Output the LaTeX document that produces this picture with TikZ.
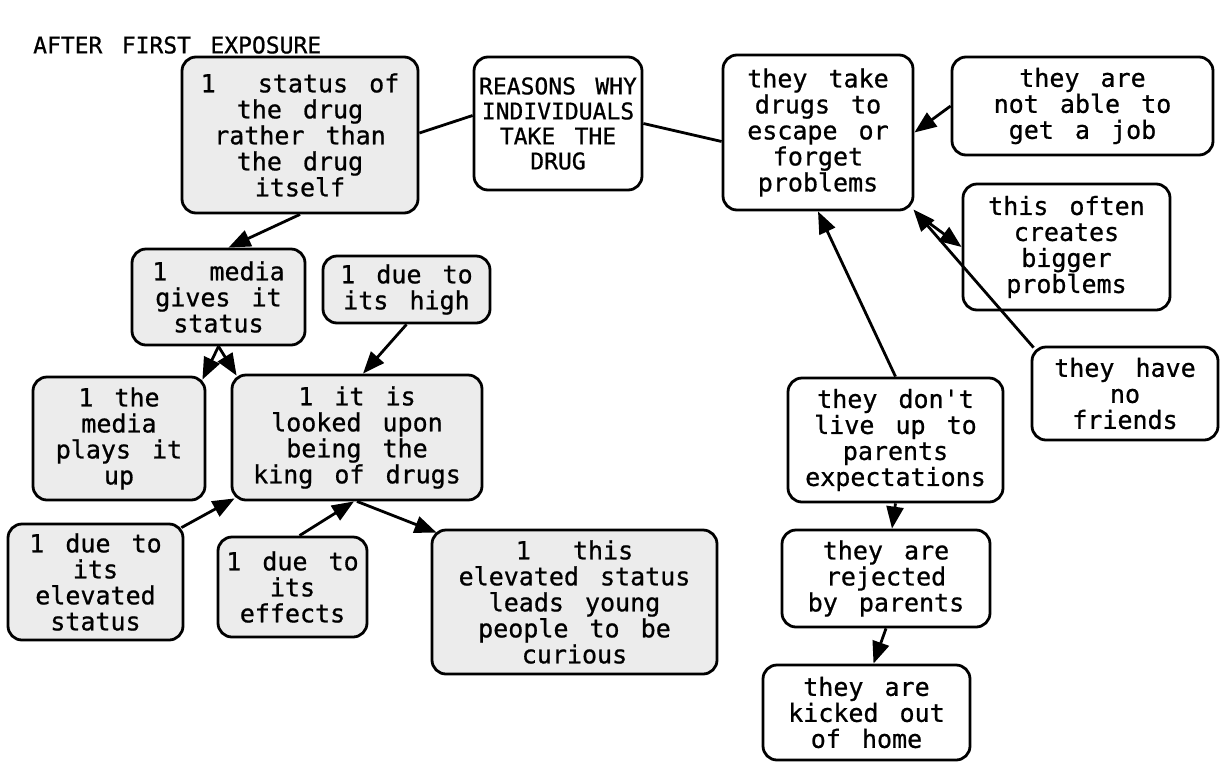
\documentclass[tikz,border=0pt]{standalone}
\usepackage{fontspec}
\newfontfamily\mapfont[WordSpace=1.4,FakeBold=0.8]{DejaVu Sans Mono}
\usetikzlibrary{arrows.meta}

\tikzset{
  concept/.style={draw, line width=2.8pt, rounded corners=14pt, align=center,
    inner sep=0pt, font=\mapfont\fontsize{25}{26}\selectfont},
  shadedbox/.style={concept, fill=gray!15},
  capsbox/.style={concept, font=\mapfont\fontsize{23}{25}\selectfont},
  link/.style={line width=2.8pt},
  arr/.style={link, -{Triangle[length=22pt,width=17pt]}},
}

\begin{document}
\begin{tikzpicture}[x=1pt,y=-1pt]
\useasboundingbox (0,0) rectangle (1222,761);

% heading
\node[anchor=west, font=\mapfont\fontsize{23}{25}\selectfont, inner sep=0pt] (title) at (33,45) {AFTER FIRST EXPOSURE};

% left cluster: status of the drug
\node[shadedbox, minimum width=236, minimum height=156] (status) at (300,135)
  {1~~status of\\the drug\\rather than\\the drug\\itself};
\node[capsbox, minimum width=168, minimum height=133] (reasons) at (558,123.5)
  {REASONS WHY\\INDIVIDUALS\\TAKE THE\\DRUG};
\node[shadedbox, minimum width=173, minimum height=96] (media) at (218.5,297)
  {1~~media\\gives it\\status};
\node[shadedbox, minimum width=167, minimum height=67] (high) at (406.5,289.5)
  {1 due to\\its high};
\node[shadedbox, minimum width=172, minimum height=123] (plays) at (119,438.5)
  {1 the\\media\\plays it\\up};
\node[shadedbox, minimum width=250, minimum height=125] (king) at (357,437.5)
  {1 it is\\looked upon\\being the\\king of drugs};
\node[shadedbox, minimum width=175, minimum height=116] (elevated) at (95.5,582)
  {1 due to\\its\\elevated\\status};
\node[shadedbox, minimum width=149, minimum height=100] (effects) at (292.5,587)
  {1 due to\\its\\effects};
\node[shadedbox, minimum width=285, minimum height=144] (curious) at (574.5,602)
  {1~~this\\elevated status\\leads young\\people to be\\curious};

% right cluster: escaping problems
\node[concept, minimum width=190, minimum height=155] (escape) at (818,132.5)
  {they take\\drugs to\\escape or\\forget\\problems};
\node[concept, minimum width=261, minimum height=98] (job) at (1082.5,106)
  {they are\\not able to\\get a job};
\node[concept, minimum width=207, minimum height=126] (bigger) at (1066.5,247)
  {this often\\creates\\bigger\\problems};
\node[concept, minimum width=186, minimum height=93] (friends) at (1125,393.5)
  {they have\\no\\friends};
\node[concept, minimum width=215, minimum height=124] (expect) at (895.5,440)
  {they don't\\live up to\\parents\\expectations};
\node[concept, minimum width=208, minimum height=97] (rejected) at (886,578.5)
  {they are\\rejected\\by parents};
\node[concept, minimum width=207, minimum height=95] (kicked) at (866.5,712.5)
  {they are\\kicked out\\of home};

% connectors
\draw[link] ([yshift=2pt]status.east) -- ([yshift=8pt]reasons.west);
\draw[link] (reasons.east) -- ([yshift=-9pt]escape.west);
\draw[arr] (status.south) -- ([xshift=10pt]media.north);
\draw[arr] (media.south) -- ([xshift=-4pt,yshift=-4pt]plays.north east);
\draw[arr] (media.south) -- ([xshift=6pt,yshift=-2pt]king.north west);
\draw[arr] (high.south) -- ([xshift=6pt]king.north);
\draw[arr] ([xshift=-3pt,yshift=-5pt]elevated.north east) -- ([xshift=4pt,yshift=3pt]king.south west);
\draw[arr] ([xshift=7pt]effects.north) -- ([xshift=-3pt]king.south);
\draw[arr] (king.south) -- ([xshift=6pt,yshift=-4pt]curious.north west);
\draw[arr] (job.west) -- (escape.east);
\draw[arr] ([xshift=3pt,yshift=-3pt]escape.south east) -- (bigger.west);
\draw[arr] ([xshift=3pt,yshift=-2pt]friends.north west) -- ([xshift=-1pt,yshift=2pt]escape.south east);
\draw[arr] (expect.north) -- (escape.south);
\draw[arr] (expect.south) -- ([xshift=6pt]rejected.north);
\draw[arr] (rejected.south) -- ([xshift=7pt]kicked.north);
\end{tikzpicture}
\end{document}
